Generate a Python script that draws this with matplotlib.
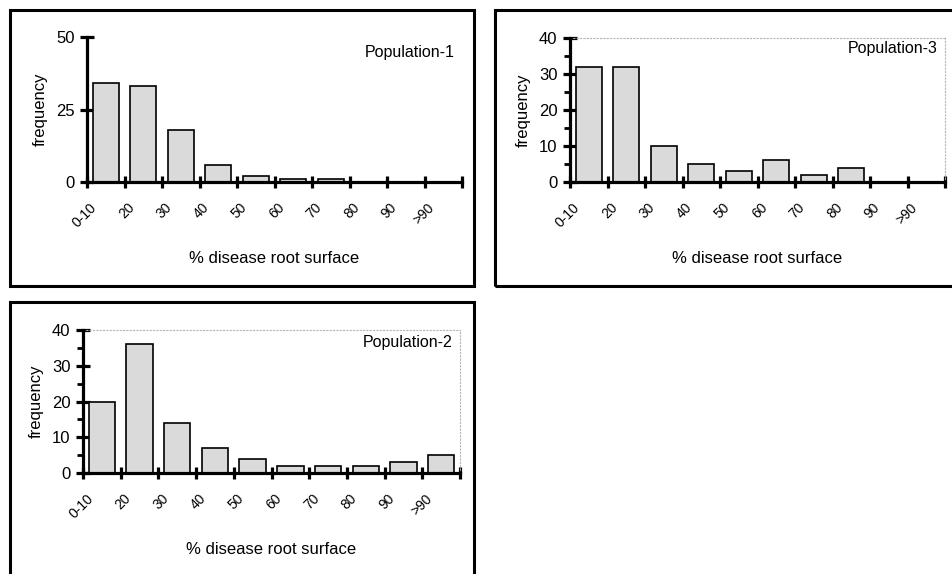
import matplotlib
matplotlib.use("Agg")
import matplotlib.pyplot as plt
import matplotlib.transforms as mtransforms
from matplotlib.patches import Rectangle
import numpy as np

plt.rcParams["font.family"] = ["Liberation Sans", "DejaVu Sans"]

# Data
categories = ["0-10", "20", "30", "40", "50", "60", "70", "80", "90", ">90"]
pop1 = [34, 33, 18, 6, 2, 1, 1, 0, 0, 0]
pop2 = [20, 36, 14, 7, 4, 2, 2, 2, 3, 5]
pop3 = [32, 32, 10, 5, 3, 6, 2, 4, 0, 0]

W, H = 952, 574
fig = plt.figure(figsize=(W / 100, H / 100), dpi=100)


def px_rect(x0, y0, x1, y1):
    return [x0 / W, 1 - y1 / H, (x1 - x0) / W, (y1 - y0) / H]


def panel(rect, values, ymax, ystep, yminor, name, name_dy, frame):
    ax = fig.add_axes(px_rect(*rect))
    n = len(values)
    x = np.arange(n) + 0.5
    ax.bar(x, values, width=0.7, color="#dadada", edgecolor="black",
           linewidth=1.2, zorder=2)
    ax.set_xlim(0, n)
    ax.set_ylim(0, ymax)

    for s in ["left", "bottom"]:
        ax.spines[s].set_linewidth(2.3)
        ax.spines[s].set_zorder(3)
    for s in ["top", "right"]:
        if frame:
            ax.spines[s].set_color("#b5b5b5")
            ax.spines[s].set_linestyle((0, (1, 2)))
            ax.spines[s].set_linewidth(0.8)
        else:
            ax.spines[s].set_visible(False)

    # x: major ticks at category boundaries, labels at centres
    ax.set_xticks(np.arange(n + 1))
    ax.set_xticklabels([])
    ax.set_xticks(x, minor=True)
    ax.set_xticklabels(categories, minor=True, rotation=45, ha="right",
                       va="center", rotation_mode="anchor", fontsize=10)
    ax.tick_params(axis="x", which="major", direction="inout", length=9,
                   width=2.3)
    ax.tick_params(axis="x", which="minor", length=0, pad=17)
    off = mtransforms.ScaledTranslation(-11 / 100, 0, fig.dpi_scale_trans)
    for lab in ax.get_xticklabels(minor=True):
        lab.set_transform(lab.get_transform() + off)

    ax.set_yticks(np.arange(0, ymax + 1, ystep))
    if yminor:
        ax.set_yticks(np.arange(0, ymax + 1, yminor), minor=True)
    ax.tick_params(axis="y", which="major", direction="inout", length=10,
                   width=2.3, labelsize=12, pad=4)
    ax.tick_params(axis="y", which="minor", direction="out", length=4,
                   width=2)

    ax.set_ylabel("frequency", fontsize=12, labelpad=6)
    ax.set_xlabel("% disease root surface", fontsize=12, labelpad=15)
    ax.text(0.98, 1 - name_dy, name, transform=ax.transAxes, ha="right",
            va="center", fontsize=11.5)
    return ax


panel((87, 37, 462, 182), pop1, 50, 25, None, "Population-1", 0.11, False)
panel((570, 38, 945, 182), pop3, 40, 10, 5, "Population-3", 0.07, True)
panel((83, 330, 460, 473), pop2, 40, 10, 5, "Population-2", 0.085, True)

# outer boxes around each panel
for (x0, y0, x1, y1) in [(10, 10, 474, 286), (495, 10, 960, 286),
                         (10, 302, 474, 590)]:
    fig.patches.append(Rectangle((x0 / W, 1 - y1 / H), (x1 - x0) / W,
                                 (y1 - y0) / H, transform=fig.transFigure,
                                 fill=False, edgecolor="black",
                                 linewidth=2.2))

fig.savefig("out.png", dpi=100)
